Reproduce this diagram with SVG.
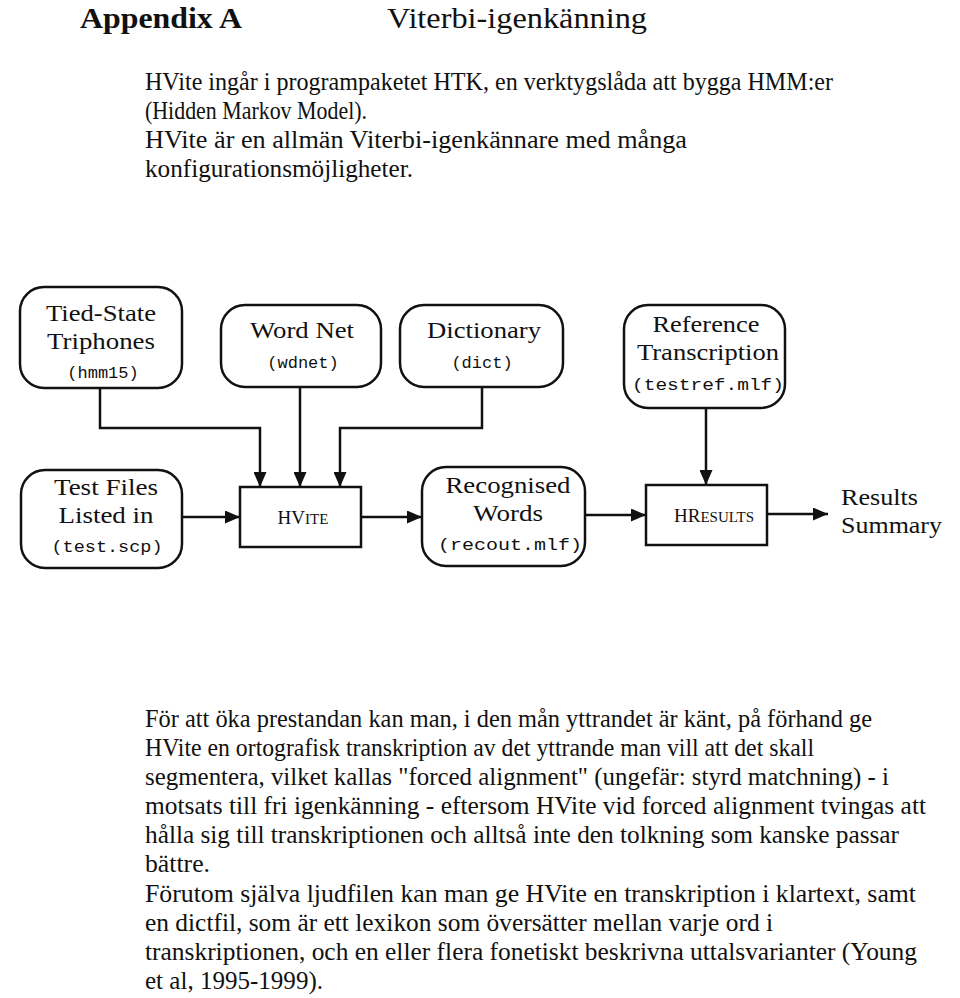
<svg xmlns="http://www.w3.org/2000/svg" width="960" height="998" viewBox="0 0 960 998">
<defs>
<style>
.body{font-family:"Liberation Serif","Times New Roman",serif;font-size:24.5px;fill:#111}
.lbl{font-family:"Liberation Serif","Times New Roman",serif;font-size:24px;fill:#111;text-anchor:middle}
.mono{font-family:"Liberation Mono","Courier New",monospace;font-size:17px;fill:#111;text-anchor:middle}
.sc{font-family:"Liberation Serif","Times New Roman",serif;font-size:19px;fill:#111;text-anchor:middle}
.node{fill:#fff;stroke:#111;stroke-width:2.5}
.edge{fill:none;stroke:#111;stroke-width:2.5}
</style>
<marker id="arr" viewBox="0 0 15 13" refX="15" refY="6.5" markerWidth="15" markerHeight="13" markerUnits="userSpaceOnUse" orient="auto">
<path d="M0,0 L15,6.5 L0,13 Z" fill="#111"/>
</marker>
</defs>
<rect width="960" height="998" fill="#fff"/>

<text x="80" y="28" font-family="Liberation Serif, Times New Roman, serif" font-size="30" font-weight="bold" fill="#111" textLength="162" lengthAdjust="spacingAndGlyphs">Appendix A</text>
<text x="387" y="28" font-family="Liberation Serif, Times New Roman, serif" font-size="30" fill="#111" textLength="260" lengthAdjust="spacingAndGlyphs">Viterbi-igenkänning</text>

<text class="body" x="145" y="90" textLength="688" lengthAdjust="spacingAndGlyphs">HVite ingår i programpaketet HTK, en verktygslåda att bygga HMM:er</text>
<text class="body" x="145" y="119" textLength="222" lengthAdjust="spacingAndGlyphs">(Hidden Markov Model).</text>
<text class="body" x="145" y="148" textLength="542" lengthAdjust="spacingAndGlyphs">HVite är en allmän Viterbi-igenkännare med många</text>
<text class="body" x="145" y="177" textLength="268" lengthAdjust="spacingAndGlyphs">konfigurationsmöjligheter.</text>

<g id="connectors">
<path class="edge" d="M100,388 V428 H260 V487" marker-end="url(#arr)"/>
<path class="edge" d="M300,387 V487" marker-end="url(#arr)"/>
<path class="edge" d="M482,387 V428 H340 V487" marker-end="url(#arr)"/>
<path class="edge" d="M182,517 H240" marker-end="url(#arr)"/>
<path class="edge" d="M361,517 H422" marker-end="url(#arr)"/>
<path class="edge" d="M585,515 H646" marker-end="url(#arr)"/>
<path class="edge" d="M706,408 V485" marker-end="url(#arr)"/>
<path class="edge" d="M767,514 H828" marker-end="url(#arr)"/>
</g>

<g id="tied-state">
<rect class="node" x="20" y="287" width="162" height="101" rx="24"/>
<text class="lbl" x="101" y="321" textLength="110" lengthAdjust="spacingAndGlyphs">Tied-State</text>
<text class="lbl" x="101" y="349" textLength="108" lengthAdjust="spacingAndGlyphs">Triphones</text>
<text class="mono" x="103" y="378">(hmm15)</text>
</g>

<g id="word-net">
<rect class="node" x="221" y="305" width="160" height="82" rx="24"/>
<text class="lbl" x="302" y="338" textLength="104" lengthAdjust="spacingAndGlyphs">Word Net</text>
<text class="mono" x="303" y="368">(wdnet)</text>
</g>

<g id="dictionary">
<rect class="node" x="400" y="305" width="163" height="82" rx="24"/>
<text class="lbl" x="484" y="338" textLength="114" lengthAdjust="spacingAndGlyphs">Dictionary</text>
<text class="mono" x="482" y="368">(dict)</text>
</g>

<g id="reference">
<rect class="node" x="624" y="305" width="161" height="103" rx="24"/>
<text class="lbl" x="706" y="332" textLength="107" lengthAdjust="spacingAndGlyphs">Reference</text>
<text class="lbl" x="708" y="360" textLength="142" lengthAdjust="spacingAndGlyphs">Transcription</text>
<text class="mono" x="708" y="390" textLength="152" lengthAdjust="spacingAndGlyphs">(testref.mlf)</text>
</g>

<g id="test-files">
<rect class="node" x="21" y="470" width="161" height="98" rx="24"/>
<text class="lbl" x="106" y="495" textLength="104" lengthAdjust="spacingAndGlyphs">Test Files</text>
<text class="lbl" x="106" y="523" textLength="95" lengthAdjust="spacingAndGlyphs">Listed in</text>
<text class="mono" x="107" y="552" textLength="111" lengthAdjust="spacingAndGlyphs">(test.scp)</text>
</g>

<g id="hvite">
<rect class="node" x="240" y="487" width="121" height="60"/>
<text class="sc" x="303" y="524">HV<tspan font-size="15">ITE</tspan></text>
</g>

<g id="recognised">
<rect class="node" x="422" y="467" width="163" height="99" rx="24"/>
<text class="lbl" x="508" y="493" textLength="125" lengthAdjust="spacingAndGlyphs">Recognised</text>
<text class="lbl" x="508" y="521" textLength="70" lengthAdjust="spacingAndGlyphs">Words</text>
<text class="mono" x="510" y="550" textLength="144" lengthAdjust="spacingAndGlyphs">(recout.mlf)</text>
</g>

<g id="hresults">
<rect class="node" x="646" y="485" width="121" height="60"/>
<text class="sc" x="714" y="522">HR<tspan font-size="15">ESULTS</tspan></text>
</g>

<g id="results-summary">
<text x="841" y="505" font-family="Liberation Serif, Times New Roman, serif" font-size="24" fill="#111" textLength="77" lengthAdjust="spacingAndGlyphs">Results</text>
<text x="841" y="533" font-family="Liberation Serif, Times New Roman, serif" font-size="24" fill="#111" textLength="101" lengthAdjust="spacingAndGlyphs">Summary</text>
</g>

<text class="body" x="145" y="727" textLength="727" lengthAdjust="spacingAndGlyphs">För att öka prestandan kan man, i den mån yttrandet är känt, på förhand ge</text>
<text class="body" x="145" y="756" textLength="669" lengthAdjust="spacingAndGlyphs">HVite en ortografisk transkription av det yttrande man vill att det skall</text>
<text class="body" x="145" y="785" textLength="744" lengthAdjust="spacingAndGlyphs">segmentera, vilket kallas "forced alignment" (ungefär: styrd matchning) - i</text>
<text class="body" x="145" y="814" textLength="781" lengthAdjust="spacingAndGlyphs">motsats till fri igenkänning - eftersom HVite vid forced alignment tvingas att</text>
<text class="body" x="145" y="843" textLength="754" lengthAdjust="spacingAndGlyphs">hålla sig till transkriptionen och alltså inte den tolkning som kanske passar</text>
<text class="body" x="145" y="872" textLength="65" lengthAdjust="spacingAndGlyphs">bättre.</text>
<text class="body" x="145" y="902" textLength="771" lengthAdjust="spacingAndGlyphs">Förutom själva ljudfilen kan man ge HVite en transkription i klartext, samt</text>
<text class="body" x="145" y="931" textLength="628" lengthAdjust="spacingAndGlyphs">en dictfil, som är ett lexikon som översätter mellan varje ord i</text>
<text class="body" x="145" y="960" textLength="772" lengthAdjust="spacingAndGlyphs">transkriptionen, och en eller flera fonetiskt beskrivna uttalsvarianter (Young</text>
<text class="body" x="145" y="989" textLength="178" lengthAdjust="spacingAndGlyphs">et al, 1995-1999).</text>
</svg>
